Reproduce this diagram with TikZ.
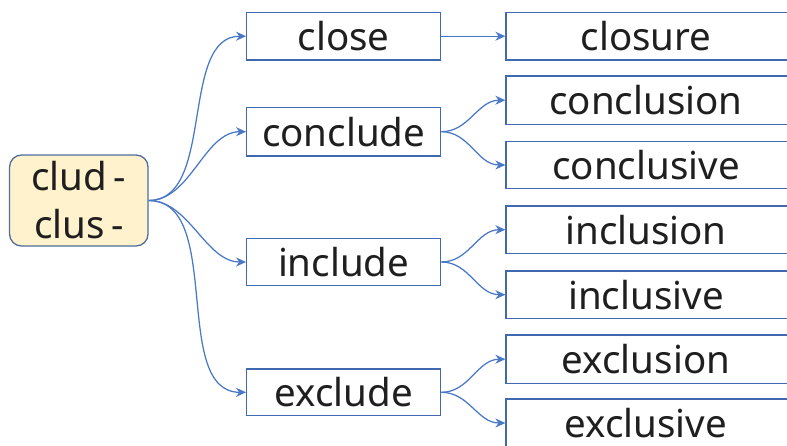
\documentclass[tikz,border=0pt]{standalone}
\usepackage{fontspec}
\setmainfont{Noto Sans}
\usetikzlibrary{arrows.meta}
\definecolor{boxblue}{HTML}{4169B0}
\definecolor{linkblue}{HTML}{4A78C8}
\definecolor{rootfill}{HTML}{FFF2CC}
\definecolor{rootline}{HTML}{4D6E9E}
\tikzset{
  wordbox/.style={draw=boxblue, line width=1.3pt, fill=white, inner sep=0pt,
    font=\fontsize{38.5}{42}\selectfont, text=black!88},
  rightbox/.style={wordbox, minimum width=290pt, text width=290pt, align=center},
  rootbox/.style={draw=rootline, line width=1.3pt, fill=rootfill, rounded corners=12pt,
    inner sep=0pt, minimum width=138.5pt, minimum height=91pt, align=center,
    font=\fontsize{38.5}{48}\selectfont, text=black!88},
  link/.style={draw=linkblue, line width=1.25pt, -{Stealth[length=10pt,width=9pt]}},
}
\begin{document}
\begin{tikzpicture}[x=1pt,y=-1pt]
\clip (0,0) rectangle (787,445);
\fill[white] (0,0) rectangle (787,445);
\node[rootbox] (root) at (78.8,200.5) {clud\,-\\clus\,-};
% middle column
\node[wordbox, minimum width=194pt, minimum height=47.7pt] (close) at (343.7,36.2) {close};
\node[wordbox, minimum width=194pt, minimum height=48.7pt] (conclude) at (343.7,131.7) {conclude};
\node[wordbox, minimum width=194pt, minimum height=47.4pt] (include) at (343.7,262) {include};
\node[wordbox, minimum width=194pt, minimum height=46.7pt] (exclude) at (343.7,392.3) {exclude};
% right column (extends past the right edge)
\node[rightbox, minimum height=47.7pt] (closure) at (651,36.2) {\hspace*{-10pt}closure};
\node[rightbox, minimum height=48.3pt] (conclusion) at (651,100.2) {\hspace*{-10pt}conclusion};
\node[rightbox, minimum height=46.6pt] (conclusive) at (651,165) {\hspace*{-10pt}conclusive};
\node[rightbox, minimum height=47.3pt] (inclusion) at (651,229.7) {\hspace*{-10pt}inclusion};
\node[rightbox, minimum height=47.3pt] (inclusive) at (651,294.7) {\hspace*{-10pt}inclusive};
\node[rightbox, minimum height=48.3pt] (exclusion) at (651,359.2) {\hspace*{-10pt}exclusion};
\node[rightbox, minimum height=48pt] (exclusive) at (651,423) {\hspace*{-10pt}exclusive};
% connectors
\foreach \t in {close,conclude,include,exclude}
  \draw[link] (root.east) to[out=0,in=180,looseness=0.9] (\t.west);
\draw[link] (close.east) -- (closure.west);
\draw[link] (conclude.east) to[out=0,in=180] (conclusion.west);
\draw[link] (conclude.east) to[out=0,in=180] (conclusive.west);
\draw[link] (include.east) to[out=0,in=180] (inclusion.west);
\draw[link] (include.east) to[out=0,in=180] (inclusive.west);
\draw[link] (exclude.east) to[out=0,in=180] (exclusion.west);
\draw[link] (exclude.east) to[out=0,in=180] (exclusive.west);
\end{tikzpicture}
\end{document}
